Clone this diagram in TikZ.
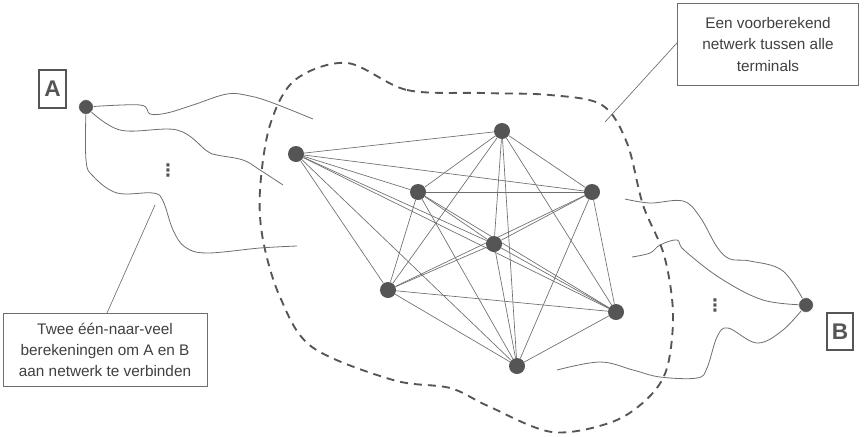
\documentclass[tikz,border=0pt]{standalone}
\usepackage{fontspec}
\setmainfont{Liberation Sans}
\newfontfamily\dotsfont{DejaVu Sans}
\usetikzlibrary{backgrounds}
\definecolor{dotgray}{HTML}{555555}
\definecolor{linegray}{HTML}{6E6E6E}
\definecolor{textgray}{HTML}{404040}
\begin{document}
\begin{tikzpicture}[
  x=0.75pt, y=-0.75pt,
  terminal/.style={
    circle,
    fill=dotgray,
    inner sep=0pt,
    minimum size=12pt
  },
  terminal_end/.style={
    terminal,
    draw=white,
    minimum size=11pt
  },
  letter_box/.style={
    draw=dotgray,
    line width=1.5pt,
    inner sep=3pt,
    text=dotgray,
    font=\fontsize{17}{17}\selectfont\bfseries
  },
  note_box/.style={
    draw=linegray,
    line width=0.7pt,
    align=center,
    text=textgray,
    font=\fontsize{11.5}{16}\selectfont
  },
  link/.style={
    draw,
    line width=0.5pt,
    color=linegray
  },
  route/.style={
    draw,
    line width=0.6pt,
    color=linegray,
    smooth,
    tension=0.6
  },
  boundary/.style={
    draw,
    line width=1.4pt,
    color=dotgray,
    dash pattern=on 6pt off 4.5pt
  },
  dots_label/.style={
    text=dotgray,
    inner sep=0pt,
    font=\dotsfont\fontsize{13}{13}\selectfont\bfseries
  }
]%
\useasboundingbox (0,0) rectangle (866,436);
% terminals of the precomputed network
\node [terminal] (t1) at (296,154) {};
\node [terminal] (t2) at (502,131) {};
\node [terminal] (t3) at (418,192) {};
\node [terminal] (t4) at (592,192) {};
\node [terminal] (t5) at (494,244) {};
\node [terminal] (t6) at (388,290) {};
\node [terminal] (t7) at (616,312) {};
\node [terminal] (t8) at (517,366) {};
% source and target
\node [terminal_end] (A) at (86,107) {};
\node [terminal_end] (B) at (806,305) {};
\node [letter_box, minimum width=20pt, minimum height=28pt] (labelA) at (52.5,89) {A};
\node [letter_box, minimum width=20pt, minimum height=28pt] (labelB) at (840,331.5) {B};
% notes
\node [note_box, minimum width=153pt, minimum height=55pt] (noteAB) at (105,350) {Twee één-naar-veel\\berekeningen om A en B\\aan netwerk te verbinden};
\node [note_box, minimum width=136pt, minimum height=62pt] (noteNet) at (768,44.5) {Een voorberekend\\netwerk tussen alle\\terminals};
\node [dots_label] (dotsA) at (168,170) {⋮};
\node [dots_label] (dotsB) at (715,305) {⋮};
\begin{scope}[on background layer]
% complete network
\foreach \i in {1,...,8} {
  \foreach \j in {\i,...,8} {
    \ifnum\i<\j \draw [link] (t\i) -- (t\j); \fi
  }
}
% boundary of the network
\draw [boundary] plot [smooth cycle, tension=0.55] coordinates {
  (347,63) (407,90) (483,93) (550,95) (602,105) (627,143) (643,205)
  (664,255) (673,313) (667,368) (648,398) (612,422) (552,432)
  (488,406) (450,388) (393,380) (312,347) (280,297) (263,240)
  (260,190) (270,125) (295,80)};
% one-to-many searches from A
\draw [route] plot coordinates {(A) (140,105) (150,114) (167,113) (193,105) (227,94) (250,96) (273,103) (313,119)};
\draw [route] plot coordinates {(A) (120,130) (177,130) (207,151) (217,155) (243,160) (260,170) (283,185)};
\draw [route] plot coordinates {(A) (86,160) (93,176) (117,193) (153,193) (163,201) (173,230) (185,247) (207,253) (260,248) (297,246)};
% one-to-many searches from B
\draw [route] plot coordinates {(625,199) (650,203) (683,201) (700,217) (717,247) (730,259) (750,261) (783,271) (B)};
\draw [route] plot coordinates {(632,257) (650,253) (660,245) (677,240) (684,250) (720,278) (763,300) (B)};
\draw [route] plot coordinates {(557,370) (600,362) (633,370) (660,377) (697,378) (707,368) (717,337) (728,328) (757,343) (783,330) (B)};
% callouts
\coordinate (pinAB) at (155,205);
\coordinate (pinNet) at (605,122);
\draw [link] (pinAB) -- (107,313);
\draw [link] (pinNet) -- (noteNet.west |- 0,43);
\end{scope}
\end{tikzpicture}
\end{document}
